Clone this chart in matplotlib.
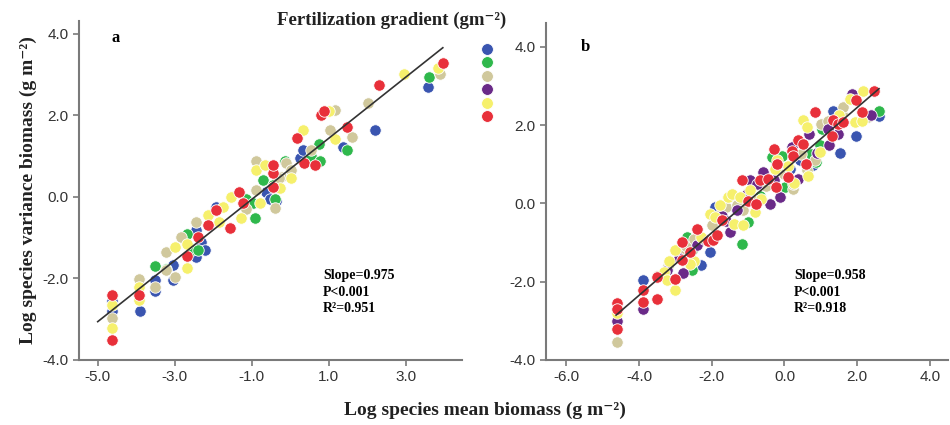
import matplotlib
matplotlib.use("Agg")
import matplotlib.pyplot as plt
import numpy as np

# colours of the six fertilization levels (legend has dots only)
level_colors = ["#3a55b0", "#2fb84c", "#d0c89c", "#6a2a88", "#f6f06c", "#e8303a"]

# ---- panel a: log mean vs log variance, per fertilization level ----
a_blue_x = [-4.62, -4.62, -3.91, -3.52, -3.52, -3.04, -3.04, -2.44, -2.31, -2.22, -2.44, -1.92, -1.14, -0.62, -0.53, -0.36, 0.25, 0.33, 1.37, 2.19, 3.58]
a_blue_y = [-2.55, -2.79, -2.80, -2.04, -2.31, -1.67, -2.04, -0.81, -1.10, -1.30, -1.47, -0.24, -0.24, 0.13, -0.05, -0.11, 0.95, 1.14, 1.22, 1.64, 2.69]
a_green_x = [-3.52, -3.22, -2.67, -2.54, -2.39, -1.14, -0.97, -0.92, -0.71, -0.45, -0.40, -0.14, 0.55, 0.75, 0.77, 1.48, 3.61]
a_green_y = [-1.70, -1.78, -0.91, -1.30, -1.30, -0.06, -0.16, -0.52, 0.42, 0.29, -0.06, 0.89, 1.01, 1.30, 0.89, 1.14, 2.95]
a_tan_x = [-4.62, -3.93, -3.52, -3.23, -3.22, -3.00, -2.83, -2.44, -1.14, -0.88, -0.90, -0.40, -0.23, -0.29, -0.10, 0.03, 0.55, 1.03, 1.16, 1.59, 2.02, 3.88]
a_tan_y = [-2.97, -2.02, -2.22, -1.34, -1.79, -1.96, -0.98, -0.61, -0.30, 0.17, 0.87, -0.28, 0.50, 0.46, 0.83, 0.66, 1.14, 1.63, 2.13, 1.46, 2.30, 3.01]
a_yellow_x = [-4.62, -4.62, -3.93, -3.93, -3.00, -2.67, -2.68, -2.13, -1.85, -1.75, -1.53, -1.29, -0.79, -0.88, -0.66, -0.27, 0.03, 0.32, 1.00, 1.16, 2.95, 3.84]
a_yellow_y = [-2.65, -3.21, -2.20, -2.53, -1.23, -1.15, -1.75, -0.44, -0.61, -0.24, 0.01, -0.52, -0.16, 0.66, 0.79, 0.21, 0.46, 1.63, 2.12, 1.42, 3.01, 3.16]
a_red_x = [-4.62, -4.62, -3.93, -2.67, -2.39, -2.13, -1.92, -1.57, -1.33, -1.24, -0.46, -0.46, -0.45, 0.18, 0.35, 0.64, 0.79, 0.87, 1.46, 2.31, 3.97]
a_red_y = [-2.40, -3.51, -2.40, -1.46, -0.98, -0.69, -0.32, -0.77, 0.13, -0.16, 0.25, 0.58, 0.79, 1.44, 0.83, 0.79, 2.01, 2.12, 1.71, 2.75, 3.28]

# ---- panel b ----
b_blue_x = [-3.89, -2.29, -2.04, -1.91, 0.15, 0.43, 0.79, 1.33, 1.53, 1.97, 2.61]
b_blue_y = [-1.96, -1.58, -1.24, -0.09, 0.88, 1.10, 0.97, 2.35, 1.28, 1.73, 2.23]
b_green_x = [-2.68, -2.55, -2.55, -1.17, -0.99, -0.67, 0.02, -0.35, -0.08, 0.72, 0.86, 0.98, 1.02, 2.61]
b_green_y = [-0.86, -1.20, -1.71, -1.03, -0.48, 0.20, 0.42, 1.18, 1.22, 1.27, 1.06, 1.50, 1.90, 2.35]
b_tan_x = [-4.61, -3.51, -3.20, -2.90, -2.70, -2.50, -2.30, -2.00, -1.72, -1.60, -1.54, -1.40, -1.30, -1.13, -1.00, -0.90, -0.50, 0.00,
           0.24, 0.24, 0.45, 0.63, 0.84, 1.01, 1.20, 1.57, 1.62, 2.30]
b_tan_y = [-3.54, -1.85, -1.60, -1.30, -1.10, -0.90, -0.95, -0.55, -0.20, -0.10, 0.16, 0.16, -0.05, -0.18, 0.30, 0.10, 0.45, 0.75,
           0.37, 0.50, 1.25, 0.86, 1.11, 2.03, 2.10, 2.29, 2.45, 2.20]
b_purple_x = [-4.61, -3.89, -3.23, -2.90, -2.79, -2.41, -2.20, -1.72, -1.60, -1.51, -1.31, -1.04, -0.95, -0.76, -0.58, -0.40, -0.30,
              -0.12, 0.20, 0.38, 0.68, 0.90, 1.21, 1.23, 1.48, 1.85, 2.37]
b_purple_y = [-3.00, -2.69, -1.71, -1.40, -1.79, -1.07, -0.90, -0.31, -0.45, -0.73, -0.18, 0.25, 0.59, 0.50, 0.80, -0.01, 0.60,
              0.16, 1.45, 0.63, 1.78, 1.30, 1.90, 1.50, 1.78, 2.80, 2.27]
b_yellow_x = [-4.61, -3.30, -3.23, -3.18, -3.00, -3.00, -2.48, -2.59, -2.30, -2.04, -1.90, -1.77, -1.54, -1.45, -1.40, -1.22, -1.13,
              -0.95, -0.81, -0.65, -0.26, -0.20, 0.10, 0.27, 0.50, 0.61, 0.66, 0.98, 1.50, 1.80, 1.94, 2.12, 2.17]
b_yellow_y = [-2.81, -1.75, -1.96, -1.48, -2.22, -1.18, -1.48, -1.54, -0.85, -0.26, -0.35, -0.05, 0.16, 0.25, -0.52, 0.16, -0.56,
              0.35, -0.22, 0.10, 0.88, 1.10, 0.95, 0.52, 2.12, 1.96, 0.71, 1.31, 2.25, 2.67, 2.07, 2.10, 2.88]
b_red_x = [-4.61, -4.61, -4.61, -3.89, -3.89, -3.51, -3.51, -3.00, -2.82, -2.82, -2.60, -2.41, -2.10, -1.97, -1.85, -1.72, -1.17,
           -1.00, -0.78, -0.67, -0.44, -0.23, -0.21, -0.30, 0.11, 0.20, 0.24, 0.38, 0.50, 0.60, 0.84, 1.30, 1.33, 1.48, 1.62, 1.97,
           2.12, 2.46]
b_red_y = [-2.54, -2.69, -3.22, -2.22, -2.52, -1.88, -2.43, -1.92, -1.45, -0.99, -1.25, -0.65, -0.95, -0.93, -0.80, -0.43, 0.59,
           0.05, -0.01, 0.59, 0.63, 0.42, 1.01, 1.39, 0.67, 1.35, 1.22, 1.62, 1.52, 1.00, 2.33, 1.73, 2.12, 2.03, 2.07, 2.65,
           2.33, 2.88]

# fitted lines as drawn in the figure (x range, slope, intercept)
fit_a_x = [-5.0, 3.96]
fit_a_slope, fit_a_icpt = 0.75, 0.69
fit_b_x = [-4.63, 2.60]
fit_b_slope, fit_b_icpt = 0.80, 0.85

stats_a = ["Slope=0.975", "P<0.001", "R²=0.951"]
stats_b = ["Slope=0.958", "P<0.001", "R²=0.918"]

serif = ["Liberation Serif", "DejaVu Serif"]
plt.rcParams["font.family"] = ["Liberation Sans", "DejaVu Sans"]

fig = plt.figure(figsize=(9.5, 4.25), dpi=100)
ax1 = fig.add_axes([0.083, 0.153, 0.403, 0.798])
ax2 = fig.add_axes([0.575, 0.153, 0.423, 0.793])

panel_a = [(a_blue_x, a_blue_y, level_colors[0]), (a_green_x, a_green_y, level_colors[1]),
           (a_tan_x, a_tan_y, level_colors[2]), (a_yellow_x, a_yellow_y, level_colors[4]),
           (a_red_x, a_red_y, level_colors[5])]
panel_b = [(b_blue_x, b_blue_y, level_colors[0]), (b_green_x, b_green_y, level_colors[1]),
           (b_tan_x, b_tan_y, level_colors[2]), (b_purple_x, b_purple_y, level_colors[3]),
           (b_yellow_x, b_yellow_y, level_colors[4]), (b_red_x, b_red_y, level_colors[5])]

for ax, groups in [(ax1, panel_a), (ax2, panel_b)]:
    for xs, ys, c in groups:
        ax.scatter(xs, ys, s=68, color=c, edgecolors="white", linewidths=0.6, zorder=2)

fx = np.array(fit_a_x)
ax1.plot(fx, fit_a_slope * fx + fit_a_icpt, color="#333333", lw=1.2, zorder=3)
fx = np.array(fit_b_x)
ax2.plot(fx, fit_b_slope * fx + fit_b_icpt, color="#333333", lw=1.2, zorder=3)

ax1.set_xlim(-5.49, 4.45)
ax1.set_ylim(-4.0, 4.32)
ax1.set_xticks([-5, -3, -1, 1, 3])
ax2.set_xlim(-6.55, 4.5)
ax2.set_ylim(-4.0, 4.61)
ax2.set_xticks([-6, -4, -2, 0, 2, 4])

for ax in (ax1, ax2):
    ax.set_yticks([-4, -2, 0, 2, 4])
    ax.xaxis.set_major_formatter(matplotlib.ticker.FormatStrFormatter("%.1f"))
    ax.yaxis.set_major_formatter(matplotlib.ticker.FormatStrFormatter("%.1f"))
    for s in ("top", "right"):
        ax.spines[s].set_visible(False)
    for s in ("left", "bottom"):
        ax.spines[s].set_color("#7a7a7a")
        ax.spines[s].set_linewidth(1.5)
    ax.tick_params(colors="#7a7a7a", labelcolor="#333333", labelsize=11, length=4, width=1.2)

ax1.text(0.085, 0.95, "a", transform=ax1.transAxes, family=serif, fontweight="bold", fontsize=12, va="center")
ax2.text(0.085, 0.93, "b", transform=ax2.transAxes, family=serif, fontweight="bold", fontsize=12, va="center")

for lines, xpos in [(stats_a, 0.34), (stats_b, 0.836)]:
    for i, t in enumerate(lines):
        fig.text(xpos, 1 - (275 + 17 * i) / 425, t, family=serif, fontweight="bold", fontsize=10, va="center")

fig.text(0.412, 0.953, "Fertilization gradient (gm⁻²)", family=serif, fontweight="bold",
         fontsize=13.5, ha="center", va="center", color="#222222")
fig.text(0.03, 0.553, "Log species variance biomass (g m⁻²)", family=serif, fontweight="bold",
         fontsize=14, rotation=90, ha="center", va="center", color="#222222")
fig.text(0.51, 0.035, "Log species mean biomass (g m⁻²)", family=serif, fontweight="bold",
         fontsize=14, ha="center", va="center", color="#222222")

# legend dots (labels hidden in the original)
leg_y = 1 - np.linspace(49, 116, len(level_colors)) / 425
for c, yy in zip(level_colors, leg_y):
    fig.add_artist(plt.Line2D([0.513], [yy], marker="o", markersize=8.5, color=c,
                              markeredgecolor="white", markeredgewidth=0.6, linestyle="none",
                              transform=fig.transFigure))

fig.savefig("out.png", dpi=100)
